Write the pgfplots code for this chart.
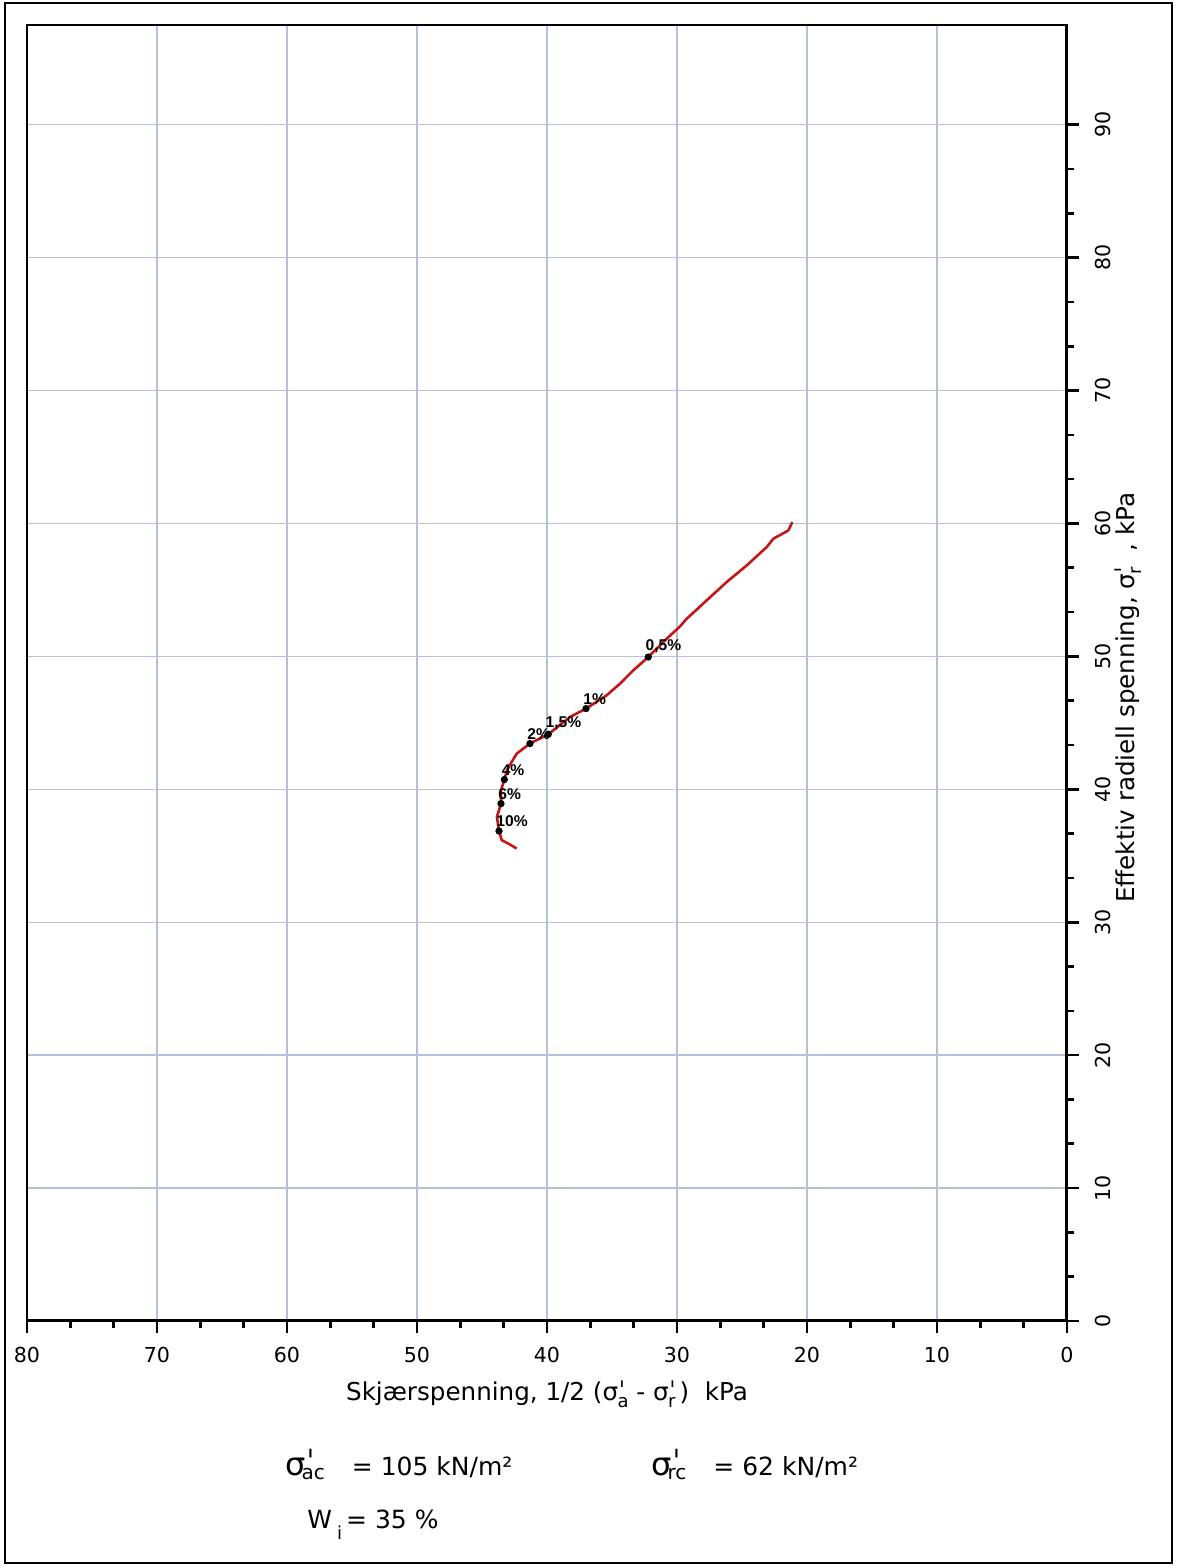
\documentclass[border=0pt]{standalone}
\usepackage{fontspec}
\setmainfont{DejaVu Sans}
\newfontfamily\pctfont{Liberation Sans}
\usepackage{pgfplots}
\usepackage{pgfplotstable}
\pgfplotsset{compat=1.18}

\definecolor{gridc}{RGB}{182,193,216}
\definecolor{pathred}{RGB}{196,22,22}

\newcommand{\prm}{ˈ}
\newcommand{\sigL}[1]{σ\rlap{\kern0.2pt\raisebox{0.5pt}{\prm}}\kern-0.3pt\raisebox{-3.5pt}{\fontsize{9}{9}\selectfont #1}}
\newcommand{\sigA}[1]{{\fontsize{16}{16}\selectfont σ\rlap{\kern0.6pt\raisebox{1pt}{\prm}}}\kern-2pt\raisebox{-2pt}{\fontsize{10}{10}\selectfont #1}}

\pgfplotstableread{
x y
21.13 60.10
21.44 59.47
22.59 58.85
23.10 58.22
24.64 56.84
26.18 55.59
27.72 54.21
29.25 52.83
29.82 52.20
30.79 51.33
32.21 49.95
33.36 48.95
34.38 47.95
35.41 47.07
37.00 46.07
38.23 45.44
39.90 44.14
41.31 43.44
42.33 42.68
42.72 42.05
43.08 41.43
43.28 40.73
43.54 39.92
43.54 38.92
43.85 37.92
43.69 36.86
43.48 36.17
42.98 35.92
42.33 35.54
}\pathdata

\begin{document}
\begin{tikzpicture}
\useasboundingbox (0,0) rectangle (588pt,783pt);
\draw[line width=1.2pt] (2.5pt,1.5pt) rectangle (586pt,781.5pt);
\begin{axis}[
  at={(13.5pt,122.5pt)}, anchor=south west,
  width=520pt, height=648pt, scale only axis,
  xmin=0, xmax=80, x dir=reverse,
  ymin=0, ymax=97.5,
  xtick={0,10,...,80}, ytick={0,10,...,90},
  minor x tick num=2, minor y tick num=2,
  xtick pos=bottom, ytick pos=right, yticklabel pos=right,
  tick align=outside,
  major tick length=6pt, minor tick length=3.5pt,
  every tick/.style={black, line width=1.3pt},
  axis line style={line width=1.3pt},
  grid=major, major grid style={gridc, line width=0.7pt},
  /pgf/number format/assume math mode=true,
  ticklabel style={font=\fontsize{10.3}{12}\selectfont},
  xticklabel shift=3.5pt,
  yticklabel shift=4.5pt,
  yticklabel style={rotate=90, anchor=north},
  xlabel={Skjærspenning, 1/2 (\sigL{a} -\ \sigL{r}\,)\ \ kPa},
  ylabel={Effektiv radiell spenning, \sigL{r}\ \ , kPa},
  label style={font=\fontsize{12.3}{14}\selectfont},
  xlabel style={at={(axis description cs:0.5,-0.061)}, anchor=base},
  ylabel style={at={(axis description cs:1.0645,0.481)}, anchor=base},
]
\addplot[pathred, line width=1.3pt, line join=round] table[x=x, y=y] {\pathdata};
\addplot[only marks, mark=*, mark size=1.6pt, black,
  point meta=explicit symbolic, nodes near coords,
  every node near coord/.append style={anchor=south west, black,
    font=\pctfont\bfseries\fontsize{7.8}{8}\selectfont, inner sep=0.5pt, xshift=-2pt, yshift=1.5pt}]
  coordinates {
  (32.21,49.95) [0,5\%]
  (37.00,46.07) [1\%]
  (39.90,44.14) [1,5\%]
  (41.31,43.44) [2\%]
  (43.28,40.73) [4\%]
  (43.54,38.92) [6\%]
  (43.69,36.86) [10\%]
  };
\draw[line width=2pt, line cap=round] (axis description cs:0,0) -- (axis description cs:1,0) -- (axis description cs:1,1);
\end{axis}
\begin{scope}[shift={(0pt,783pt)}, x=0.5pt, y=-0.5pt]
\node[anchor=base west, inner sep=0, font=\fontsize{12.5}{14}\selectfont] at (285,1476) {\sigA{ac}\hspace{13.5pt}= 105 kN/m²};
\node[anchor=base west, inner sep=0, font=\fontsize{12.5}{14}\selectfont] at (651,1476) {\sigA{rc}\hspace{13.5pt}= 62 kN/m²};
\node[anchor=base west, inner sep=0, font=\fontsize{12.5}{14}\selectfont] at (307,1529) {W\kern2.5pt\raisebox{-5.5pt}{\fontsize{9}{9}\selectfont i}\kern2pt = 35 \%};
\end{scope}
\end{tikzpicture}
\end{document}
